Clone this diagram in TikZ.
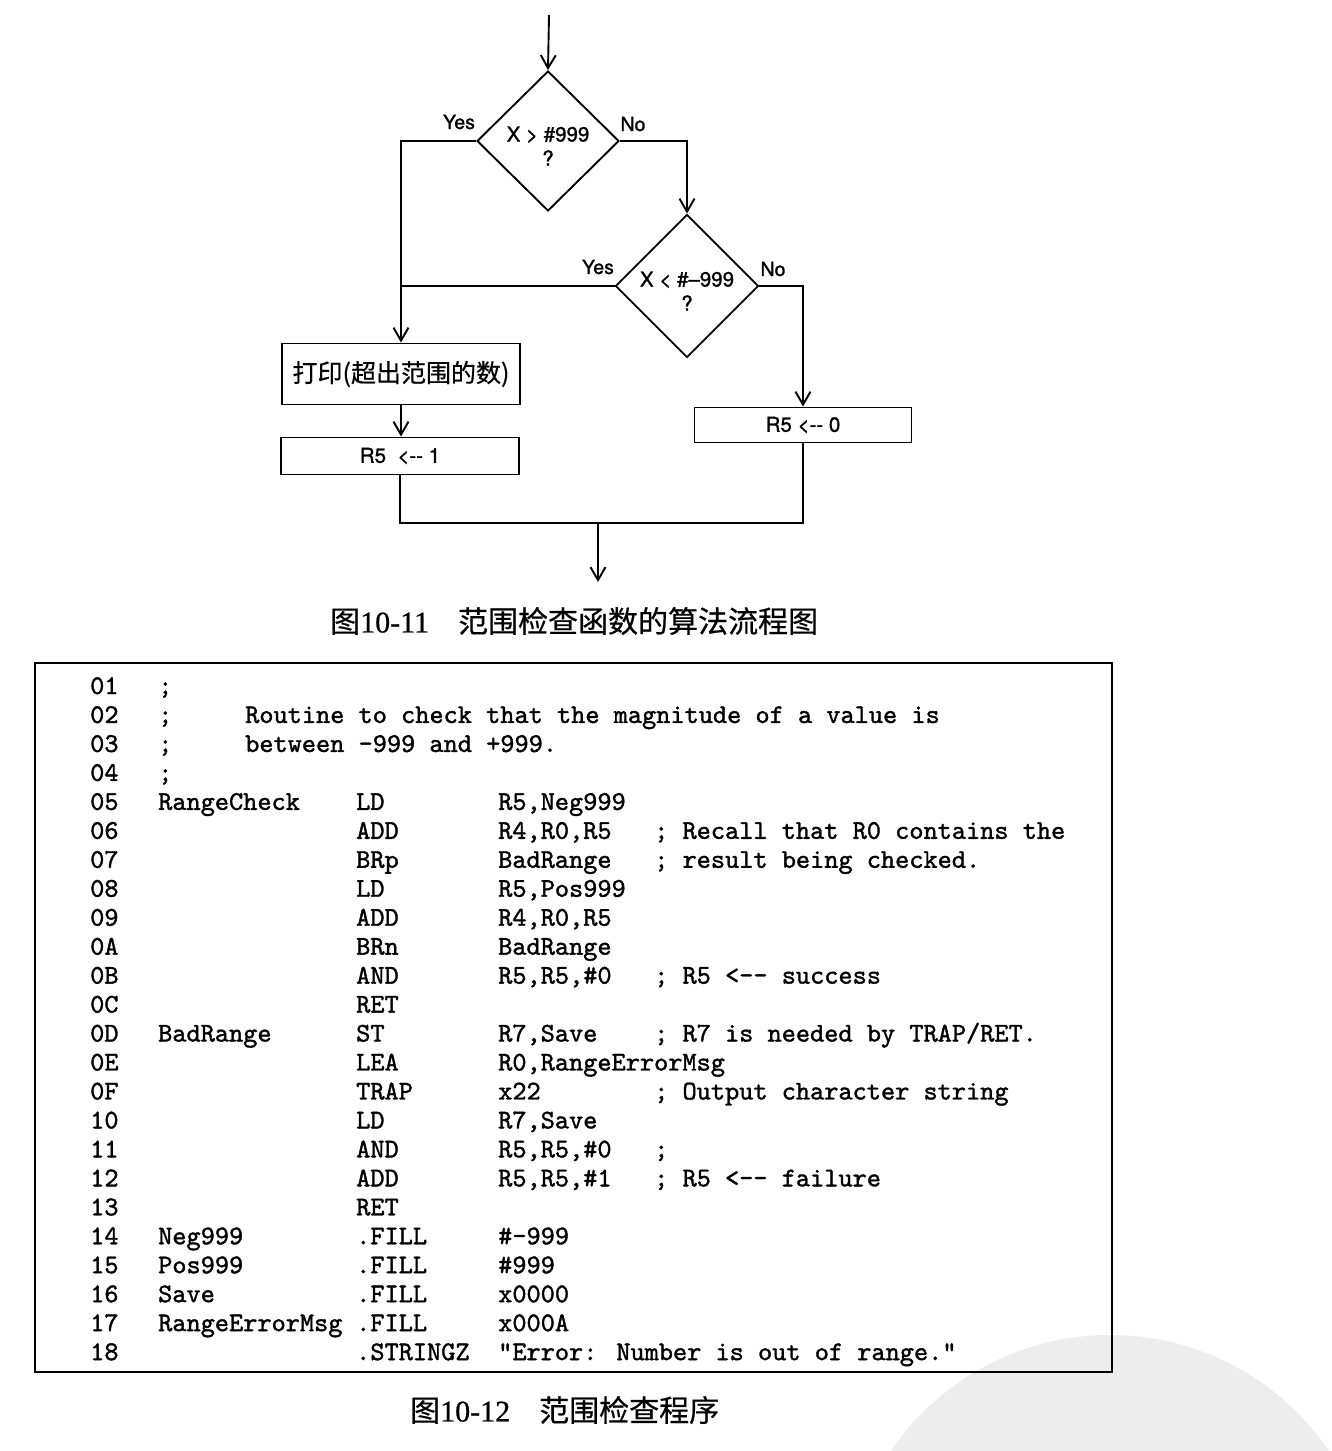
\documentclass[tikz,border=0pt]{standalone}
\usepackage{fontspec}
\newfontfamily\cjk{Noto Sans CJK SC}[FakeBold=0.6]
\newfontfamily\heros{TeX Gyre Heros}[FakeBold=1.2]
\newfontfamily\capdigits{Liberation Serif}[FakeBold=0.8]
\newfontfamily\codefont{lmmono10-regular}[Extension=.otf,FakeBold=1.4]
\usetikzlibrary{shapes.geometric,arrows.meta}

% one code cell: name, x, line index, text
\newcommand\cl[4]{\node[code] (#1) at (#2,{694+28.96*(#3-1)}) {#4};}

\tikzset{
  flow/.style={line width=1.9pt},
  arr/.style={flow,-{Straight Barb[length=13pt,width=15pt,line width=1.9pt]}},
  dec/.style={draw,line width=1.9pt,diamond,minimum width=142pt,minimum height=140pt,
    inner sep=0pt,align=center,font=\heros\fontsize{20.5}{24}\selectfont},
  proc/.style={draw,line width=1.9pt,rectangle,inner sep=0pt,
    font=\heros\fontsize{20.5}{24}\selectfont},
  lbl/.style={inner sep=0pt,font=\heros\fontsize{19.5}{19.5}\selectfont},
  code/.style={anchor=base west,inner sep=0pt,font=\codefont\fontsize{27}{29}\selectfont},
  captxt/.style={anchor=west,inner sep=0pt},
}

\begin{document}
\begin{tikzpicture}[x=1pt,y=-1pt]
\useasboundingbox (0,0) rectangle (1331,1451);

% faint seal in the lower right corner
\fill[black!7] (1110,1600) circle (265pt);

% ---------------- flowchart ----------------
\coordinate (start) at (549,15);
\node[dec] (d1) at (548,141) {\rule{0pt}{25pt}X > \#999\\?};
\node[dec] (d2) at (687,286) {\rule{0pt}{25pt}X < \#–999\\?};
\node[proc,minimum width=238pt,minimum height=61pt] (p1) at (401,374)
  {\cjk\fontsize{25}{25}\selectfont 打印(超出范围的数)};
\node[proc,minimum width=238pt,minimum height=37pt] (r1) at (400,456) {R5\ \ <-{}- 1};
\node[proc,minimum width=217pt,minimum height=35pt] (r0) at (803,425) {R5\ <-{}- 0};
\coordinate (m) at (598,523);
\coordinate (end) at (598,582);

\node[lbl] (y1) at (459,122) {Yes};
\node[lbl] (n1) at (633,124) {No};
\node[lbl] (y2) at (598,267) {Yes};
\node[lbl] (n2) at (773,269) {No};

\draw[arr] (start) -- (d1.north);
\draw[arr] (d1.west) -| (p1.north);
\draw[arr] (d1.east) -| (d2.north);
\draw[flow] (d2.west) -- (d2.west -| p1.north);
\draw[arr] (d2.east) -| (r0.north);
\draw[arr] (p1.south) -- (p1.south |- r1.north);
\draw[flow] (r1.south) |- (m) -| (r0.south);
\draw[arr] (m) -- (end);

\node[captxt] (cap1) at (330,621)
  {\cjk\fontsize{30}{30}\selectfont 图{\capdigits\fontsize{30}{30}\selectfont 10-11}\hspace{29pt}范围检查函数的算法流程图};

% ---------------- listing ----------------
\draw[line width=2.2pt] (35,663) rectangle (1112,1372);

\cl{n01}{90}{1}{01}  \cl{s01}{158}{1}{;}
\cl{n02}{90}{2}{02}  \cl{s02}{158}{2}{;} \cl{t02}{245}{2}{Routine to check that the magnitude of a value is}
\cl{n03}{90}{3}{03}  \cl{s03}{158}{3}{;} \cl{t03}{245}{3}{between -999 and +999.}
\cl{n04}{90}{4}{04}  \cl{s04}{158}{4}{;}
\cl{n05}{90}{5}{05}  \cl{l05}{158}{5}{RangeCheck} \cl{o05}{356}{5}{LD} \cl{a05}{498}{5}{R5,Neg999}
\cl{n06}{90}{6}{06}  \cl{o06}{356}{6}{ADD} \cl{a06}{498}{6}{R4,R0,R5} \cl{c06}{654}{6}{; Recall that R0 contains the}
\cl{n07}{90}{7}{07}  \cl{o07}{356}{7}{BRp} \cl{a07}{498}{7}{BadRange} \cl{c07}{654}{7}{; result being checked.}
\cl{n08}{90}{8}{08}  \cl{o08}{356}{8}{LD} \cl{a08}{498}{8}{R5,Pos999}
\cl{n09}{90}{9}{09}  \cl{o09}{356}{9}{ADD} \cl{a09}{498}{9}{R4,R0,R5}
\cl{n0A}{90}{10}{0A} \cl{o0A}{356}{10}{BRn} \cl{a0A}{498}{10}{BadRange}
\cl{n0B}{90}{11}{0B} \cl{o0B}{356}{11}{AND} \cl{a0B}{498}{11}{R5,R5,\#0} \cl{c0B}{654}{11}{; R5 <-{}- success}
\cl{n0C}{90}{12}{0C} \cl{o0C}{356}{12}{RET}
\cl{n0D}{90}{13}{0D} \cl{l0D}{158}{13}{BadRange} \cl{o0D}{356}{13}{ST} \cl{a0D}{498}{13}{R7,Save} \cl{c0D}{654}{13}{; R7 is needed by TRAP/RET.}
\cl{n0E}{90}{14}{0E} \cl{o0E}{356}{14}{LEA} \cl{a0E}{498}{14}{R0,RangeErrorMsg}
\cl{n0F}{90}{15}{0F} \cl{o0F}{356}{15}{TRAP} \cl{a0F}{498}{15}{x22} \cl{c0F}{654}{15}{; Output character string}
\cl{n10}{90}{16}{10} \cl{o10}{356}{16}{LD} \cl{a10}{498}{16}{R7,Save}
\cl{n11}{90}{17}{11} \cl{o11}{356}{17}{AND} \cl{a11}{498}{17}{R5,R5,\#0} \cl{c11}{654}{17}{;}
\cl{n12}{90}{18}{12} \cl{o12}{356}{18}{ADD} \cl{a12}{498}{18}{R5,R5,\#1} \cl{c12}{654}{18}{; R5 <-{}- failure}
\cl{n13}{90}{19}{13} \cl{o13}{356}{19}{RET}
\cl{n14}{90}{20}{14} \cl{l14}{158}{20}{Neg999} \cl{o14}{356}{20}{.FILL} \cl{a14}{498}{20}{\#-999}
\cl{n15}{90}{21}{15} \cl{l15}{158}{21}{Pos999} \cl{o15}{356}{21}{.FILL} \cl{a15}{498}{21}{\#999}
\cl{n16}{90}{22}{16} \cl{l16}{158}{22}{Save} \cl{o16}{356}{22}{.FILL} \cl{a16}{498}{22}{x0000}
\cl{n17}{90}{23}{17} \cl{l17}{158}{23}{RangeErrorMsg} \cl{o17}{356}{23}{.FILL} \cl{a17}{498}{23}{x000A}
\cl{n18}{90}{24}{18} \cl{o18}{356}{24}{.STRINGZ} \cl{a18}{498}{24}{"Error: Number is out of range."}

\node[captxt] (cap2) at (410,1410)
  {\cjk\fontsize{30}{30}\selectfont 图{\capdigits\fontsize{30}{30}\selectfont 10-12}\hspace{29pt}范围检查程序};
\end{tikzpicture}
\end{document}
